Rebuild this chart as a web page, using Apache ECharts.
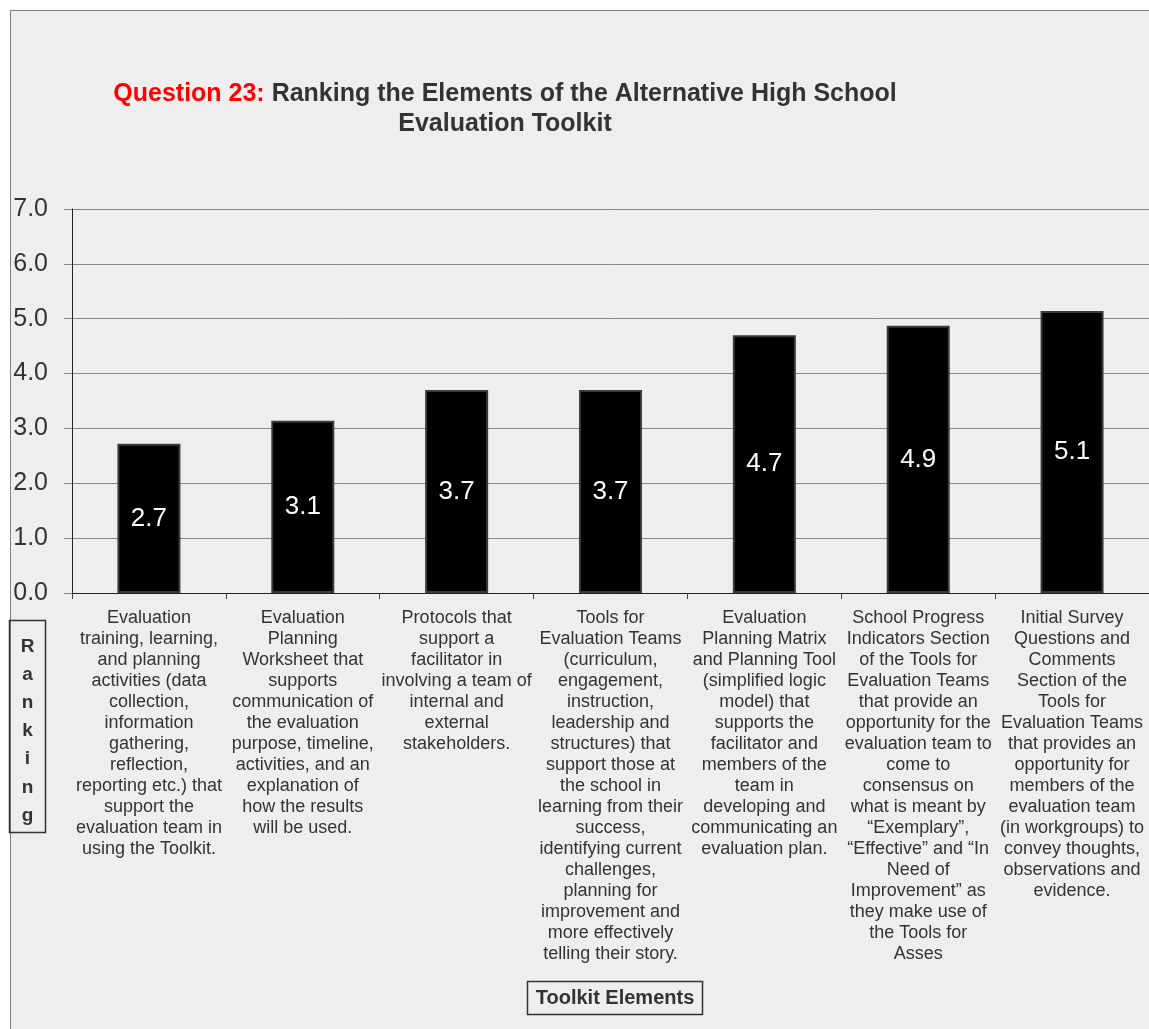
<!DOCTYPE html>
<html>
<head>
<meta charset="utf-8">
<script src="https://cdn.jsdelivr.net/npm/echarts@6/dist/echarts.min.js"></script>
<style>
  html, body { margin: 0; padding: 0; background: #ffffff; }
  #frame { position: absolute; left: 10px; top: 10px; width: 1139px; height: 1019px;
           background: #eeeeee; border-left: 1px solid #7f7f7f; border-top: 1px solid #7f7f7f; box-sizing: border-box; }
  #chart { position: absolute; left: 0; top: 0; width: 1149px; height: 1029px; }
</style>
</head>
<body>
<div id="frame"></div>
<div id="chart"></div>
<script>
const categories = [
  "Evaluation\ntraining, learning,\nand planning\nactivities (data\ncollection,\ninformation\ngathering,\nreflection,\nreporting etc.) that\nsupport the\nevaluation team in\nusing the Toolkit.",
  "Evaluation\nPlanning\nWorksheet that\nsupports\ncommunication of\nthe evaluation\npurpose, timeline,\nactivities, and an\nexplanation of\nhow the results\nwill be used.",
  "Protocols that\nsupport a\nfacilitator in\ninvolving a team of\ninternal and\nexternal\nstakeholders.",
  "Tools for\nEvaluation Teams\n(curriculum,\nengagement,\ninstruction,\nleadership and\nstructures) that\nsupport those at\nthe school in\nlearning from their\nsuccess,\nidentifying current\nchallenges,\nplanning for\nimprovement and\nmore effectively\ntelling their story.",
  "Evaluation\nPlanning Matrix\nand Planning Tool\n(simplified logic\nmodel) that\nsupports the\nfacilitator and\nmembers of the\nteam in\ndeveloping and\ncommunicating an\nevaluation plan.",
  "School Progress\nIndicators Section\nof the Tools for\nEvaluation Teams\nthat provide an\nopportunity for the\nevaluation team to\ncome to\nconsensus on\nwhat is meant by\n\u201cExemplary\u201d,\n\u201cEffective\u201d and \u201cIn\nNeed of\nImprovement\u201d as\nthey make use of\nthe Tools for\nAsses",
  "Initial Survey\nQuestions and\nComments\nSection of the\nTools for\nEvaluation Teams\nthat provides an\nopportunity for\nmembers of the\nevaluation team\n(in workgroups) to\nconvey thoughts,\nobservations and\nevidence."
];
const rankings = [2.72, 3.14, 3.70, 3.70, 4.70, 4.87, 5.14];
const yTicks = { min: 0, max: 7, interval: 1 };
const titleRed = "Question 23:";
const titleRest = "Ranking the Elements of the Alternative High School";
const titleLine2 = "Evaluation Toolkit";
const yAxisTitle = "Ranking";
const xAxisTitle = "Toolkit Elements";

const chart = echarts.init(document.getElementById('chart'), null, { renderer: 'canvas' });
const FONT = '"Liberation Sans", Arial, Helvetica, sans-serif';

chart.setOption({
  backgroundColor: 'transparent',
  animation: false,
  textStyle: { fontFamily: FONT },
  grid: { left: 72, right: 0, top: 209, bottom: 436, containLabel: false },
  xAxis: {
    type: 'category',
    data: categories,
    axisLine: { show: true, lineStyle: { color: '#222', width: 1 } },
    axisTick: { show: true, length: 6, lineStyle: { color: '#444' } },
    axisLabel: {
      interval: 0, margin: 15, color: '#333', fontSize: 18, lineHeight: 21,
      fontFamily: FONT, align: 'center', hideOverlap: false
    }
  },
  yAxis: {
    type: 'value',
    min: yTicks.min, max: yTicks.max, interval: yTicks.interval,
    axisLine: { show: true, lineStyle: { color: '#222', width: 1 } },
    axisTick: { show: true, length: 8, lineStyle: { color: '#888' } },
    splitLine: { show: true, lineStyle: { color: '#888', width: 1 } },
    axisLabel: {
      formatter: v => v.toFixed(1), color: '#333', fontSize: 25, margin: 24, fontFamily: FONT
    }
  },
  series: [{
    type: 'bar',
    data: rankings,
    barWidth: 63,
    itemStyle: { color: '#000000', borderColor: '#3a3a3a', borderWidth: 2 },
    label: {
      show: true, position: 'inside', color: '#ffffff', fontSize: 26, fontFamily: FONT,
      formatter: p => p.value.toFixed(1)
    }
  }],
  graphic: [
    {
      type: 'text', x: 505, y: 79, z: 10,
      style: {
        text: '{r|' + titleRed + '} {d|' + titleRest + '}\n{d|' + titleLine2 + '}',
        align: 'center', verticalAlign: 'top',
        rich: {
          r: { fill: '#ff0000', font: 'bold 25px ' + FONT, lineHeight: 30 },
          d: { fill: '#333333', font: 'bold 25px ' + FONT, lineHeight: 30 }
        },
        font: 'bold 25px ' + FONT
      }
    },
    {
      type: 'rect', z: 10,
      shape: { x: 9.5, y: 620.5, width: 36, height: 212 },
      style: { fill: 'none', stroke: '#333', lineWidth: 1.5 }
    },
    {
      type: 'text', x: 27.5, y: 731, z: 10,
      style: {
        text: yAxisTitle.split('').join('\n'),
        align: 'center', verticalAlign: 'middle',
        font: 'bold 19px ' + FONT, lineHeight: 28.2, fill: '#333'
      }
    },
    {
      type: 'rect', z: 10,
      shape: { x: 527.5, y: 981.5, width: 175, height: 33 },
      style: { fill: 'none', stroke: '#333', lineWidth: 1.5 }
    },
    {
      type: 'text', x: 615, y: 998, z: 10,
      style: {
        text: xAxisTitle, align: 'center', verticalAlign: 'middle',
        font: 'bold 20px ' + FONT, fill: '#333'
      }
    }
  ]
});
</script>
</body>
</html>
